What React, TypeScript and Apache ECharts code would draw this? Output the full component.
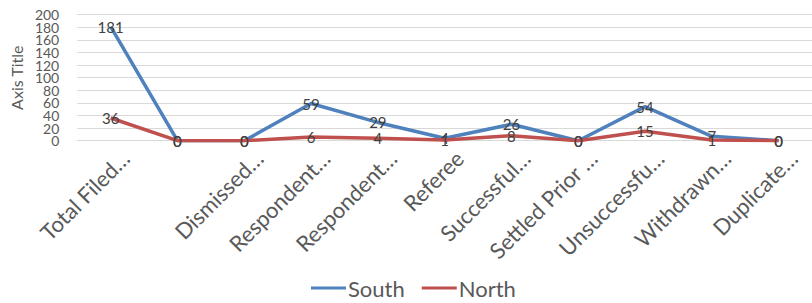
import React, { useEffect, useRef } from "react";
import * as echarts from "echarts";

const categories = [
  "Total Filed…",
  "",
  "Dismissed…",
  "Respondent…",
  "Respondent…",
  "Referee",
  "Successful…",
  "Settled Prior …",
  "Unsuccessfu…",
  "Withdrawn…",
  "Duplicate…",
];
const south = [181, 0, 0, 59, 29, 4, 26, 0, 54, 7, 0];
const north = [36, 0, 0, 6, 4, 1, 8, 0, 15, 1, 0];
const yMin = 0;
const yMax = 200;
const yStep = 20;

const FONT = "Lato, Carlito, Calibri, 'Liberation Sans', sans-serif";

export default function App() {
  const ref = useRef<HTMLDivElement>(null);
  useEffect(() => {
    if (!ref.current) return;
    const chart = echarts.init(ref.current, undefined, { renderer: "svg" });
    const label = {
      show: true,
      position: "inside",
      color: "#404040",
      fontSize: 15,
      fontFamily: FONT,
    };
    const yLabelBase = {
      color: "#595959",
      fontSize: 14,
      lineHeight: 11,
      fontFamily: FONT,
      margin: 18,
    };
    chart.setOption({
      animation: false,
      textStyle: { fontFamily: FONT },
      grid: { left: 73, right: -6, top: 14.7, bottom: 162.3, containLabel: false },
      legend: {
        bottom: -1,
        left: 306,
        icon: "rect",
        itemWidth: 35,
        itemHeight: 3,
        itemGap: 17,
        textStyle: { color: "#595959", fontSize: 22, fontFamily: FONT, padding: [0, 0, 0, -3] },
        data: ["South", "North"],
      },
      xAxis: {
        type: "category",
        data: categories,
        boundaryGap: true,
        axisLine: { show: true, lineStyle: { color: "#d9d9d9", width: 1 } },
        axisTick: { show: false },
        axisLabel: {
          interval: 0,
          rotate: 45,
          color: "#595959",
          fontSize: 22,
          fontFamily: FONT,
          verticalAlign: "top",
          margin: 13,
          padding: [0, -10, 0, 0],
        },
      },
      yAxis: [
        {
          type: "value",
          min: yMin,
          max: yMax,
          interval: yStep,
          position: "left",
          name: "Axis Title",
          nameLocation: "middle",
          nameGap: 52,
          nameRotate: 90,
          nameTextStyle: { color: "#595959", fontSize: 16, fontFamily: FONT },
          axisLine: { show: false },
          axisTick: { show: false },
          axisLabel: { ...yLabelBase, showMinLabel: false, showMaxLabel: false },
          splitLine: { lineStyle: { color: "#d9d9d9", width: 1 } },
        },
        {
          type: "value",
          min: yMin,
          max: yMax,
          interval: yStep,
          position: "left",
          offset: 0,
          axisLine: { show: false },
          axisTick: { show: false },
          splitLine: { show: false },
          axisLabel: {
            ...yLabelBase,
            showMinLabel: true,
            showMaxLabel: true,
            formatter: (v: number) => (v === yMin || v === yMax ? String(v) : ""),
          },
        },
      ],
      series: [
        {
          name: "South",
          type: "line",
          data: south,
          yAxisIndex: 0,
          color: "#4F81BD",
          lineStyle: { width: 3.5, color: "#4F81BD" },
          symbol: "circle",
          symbolSize: 0.1,
          showSymbol: true,
          label,
          z: 2,
        },
        {
          name: "North",
          type: "line",
          data: north,
          yAxisIndex: 0,
          color: "#C0504D",
          lineStyle: { width: 3.5, color: "#C0504D" },
          symbol: "circle",
          symbolSize: 0.1,
          showSymbol: true,
          label,
          z: 3,
        },
      ],
    });
    return () => chart.dispose();
  }, []);
  return <div ref={ref} style={{ width: 812, height: 303, position: "absolute", left: 0, top: 0 }} />;
}
